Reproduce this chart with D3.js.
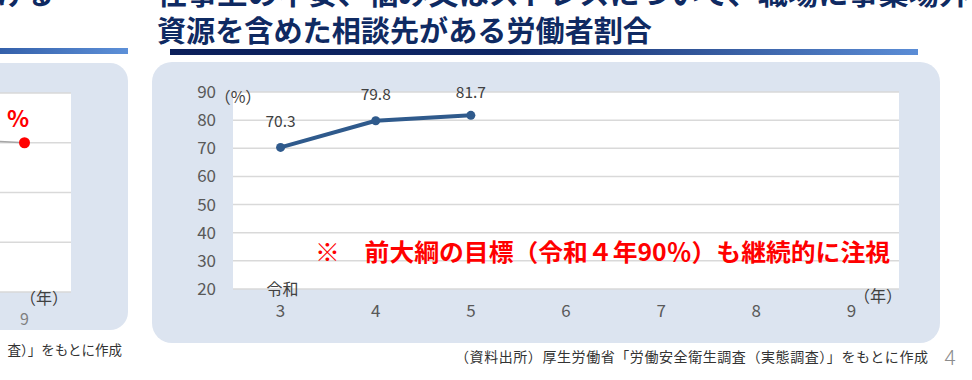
<!DOCTYPE html>
<html>
<head>
<meta charset="utf-8">
<script src="https://cdn.jsdelivr.net/npm/d3@7"></script>
<style>
  html, body { margin: 0; padding: 0; background: #fff; }
  svg { display: block; }
</style>
</head>
<body>
<div id="chart"></div>
<script>
// main chart data
const years = ["3", "4", "5", "6", "7", "8", "9"];
const rates = [70.3, 79.8, 81.7];
const yTicks = [20, 30, 40, 50, 60, 70, 80, 90];

// partly visible chart on the left edge
const leftYears = ["8", "9"];
const leftValues = [82, 80];
const leftTicks = [20, 40, 60, 80, 100];

const titleLine1 = "仕事上の不安、悩み又はストレスについて、職場に事業場外";
const titleLine2 = "資源を含めた相談先がある労働者割合";
const note = "※　前大綱の目標（令和４年90％）も継続的に注視";
const source = "（資料出所）厚生労働省「労働安全衛生調査（実態調査）」をもとに作成";

const W = 972, H = 380;
const font = "'Noto Sans CJK JP', 'Noto Sans', sans-serif";

const svg = d3.select("#chart").append("svg")
  .attr("width", W)
  .attr("height", H)
  .attr("font-family", font);

const defs = svg.append("defs");
const g1 = defs.append("linearGradient").attr("id", "barMain");
g1.append("stop").attr("offset", "0%").attr("stop-color", "#0b1f5a");
g1.append("stop").attr("offset", "45%").attr("stop-color", "#0f2766");
g1.append("stop").attr("offset", "100%").attr("stop-color", "#5b8dd6");
const g2 = defs.append("linearGradient").attr("id", "barLeft");
g2.append("stop").attr("offset", "0%").attr("stop-color", "#3460aa");
g2.append("stop").attr("offset", "100%").attr("stop-color", "#5d90d8");

// ---------- titles ----------
svg.append("text")
  .attr("x", 157).attr("y", 5)
  .attr("font-size", 29).attr("font-weight", 700)
  .attr("fill", "#0f2a62")
  .attr("textLength", 812).attr("lengthAdjust", "spacingAndGlyphs")
  .text(titleLine1);
svg.append("text")
  .attr("x", 157).attr("y", 42)
  .attr("font-size", 29).attr("font-weight", 700)
  .attr("fill", "#0f2a62")
  .attr("textLength", 495).attr("lengthAdjust", "spacingAndGlyphs")
  .text(titleLine2);
svg.append("text")
  .attr("x", -4).attr("y", 5)
  .attr("font-size", 29).attr("font-weight", 700)
  .attr("fill", "#0f2a62")
  .text("ける");

svg.append("rect").attr("x", 170).attr("y", 49).attr("width", 748).attr("height", 6)
  .attr("fill", "url(#barMain)");
svg.append("rect").attr("x", 0).attr("y", 48).attr("width", 128).attr("height", 6)
  .attr("fill", "url(#barLeft)");

// ---------- panels ----------
svg.append("rect").attr("x", -40).attr("y", 63).attr("width", 168).attr("height", 267)
  .attr("rx", 18).attr("fill", "#dce4f0");
svg.append("rect").attr("x", 152).attr("y", 62).attr("width", 788).attr("height", 281)
  .attr("rx", 20).attr("fill", "#dce4f0");

// ---------- left partial chart ----------
const lx = d3.scaleBand().domain(leftYears).range([-118, 72]);
const ly = d3.scaleLinear().domain([20, 100]).range([292, 93]);
const left = svg.append("g");
left.append("rect").attr("x", 0).attr("y", 93).attr("width", 71).attr("height", 199)
  .attr("fill", "#fff");
left.selectAll("line.grid").data(leftTicks).join("line")
  .attr("class", "grid")
  .attr("x1", 0).attr("x2", 71)
  .attr("y1", d => ly(d)).attr("y2", d => ly(d))
  .attr("stroke", "#d9d9d9").attr("stroke-width", 1.5);
const lcx = d => lx(d) + lx.bandwidth() / 2;
left.append("path")
  .datum(leftValues)
  .attr("d", d3.line().x((d, i) => lcx(leftYears[i])).y(d => ly(d)))
  .attr("fill", "none").attr("stroke", "#a6a6a6").attr("stroke-width", 1.5);
left.append("circle")
  .attr("cx", lcx("9")).attr("cy", ly(leftValues[1])).attr("r", 5.5)
  .attr("fill", "#ff0000");
left.append("text")
  .attr("x", 18).attr("y", 127)
  .attr("text-anchor", "middle")
  .attr("font-size", 23).attr("font-weight", 700).attr("fill", "#ff0000")
  .text("%");
left.append("text")
  .attr("x", 44).attr("y", 304).attr("text-anchor", "middle")
  .attr("font-size", 16).attr("fill", "#404040").text("（年）");
left.append("text")
  .attr("x", lcx("9")).attr("y", 325).attr("text-anchor", "middle")
  .attr("font-size", 16).attr("fill", "#7f7f7f").text("9");
left.append("text")
  .attr("x", 122).attr("y", 355).attr("text-anchor", "end")
  .attr("font-size", 13.5).attr("fill", "#333").text("査）」をもとに作成");

// ---------- main chart ----------
const plot = { left: 233, right: 899, top: 92, bottom: 289 };
const x = d3.scaleBand().domain(years).range([plot.left, plot.right]);
const y = d3.scaleLinear().domain([20, 90]).range([plot.bottom, plot.top]);
const cx = d => x(d) + x.bandwidth() / 2;

const chart = svg.append("g");
chart.append("rect")
  .attr("x", plot.left).attr("y", plot.top)
  .attr("width", plot.right - plot.left).attr("height", plot.bottom - plot.top)
  .attr("fill", "#fff");

chart.selectAll("line.grid").data(yTicks).join("line")
  .attr("class", "grid")
  .attr("x1", plot.left).attr("x2", plot.right)
  .attr("y1", d => y(d)).attr("y2", d => y(d))
  .attr("stroke", "#d9d9d9").attr("stroke-width", 1.5);

const yAxis = chart.append("g")
  .attr("transform", `translate(${plot.left - 17},0)`)
  .call(d3.axisLeft(y).tickValues(yTicks).tickSize(0).tickPadding(0));
yAxis.select(".domain").remove();
yAxis.selectAll("text")
  .attr("font-family", font).attr("font-size", 17).attr("fill", "#595959");

const xAxis = chart.append("g")
  .attr("transform", `translate(0,${plot.bottom})`)
  .call(d3.axisBottom(x).tickSize(0).tickPadding(16));
xAxis.select(".domain").remove();
xAxis.selectAll("text")
  .attr("font-family", font).attr("font-size", 17).attr("fill", "#595959");

chart.append("text")
  .attr("x", cx("3") + 2).attr("y", 295).attr("text-anchor", "middle")
  .attr("font-size", 16).attr("fill", "#404040").text("令和");
chart.append("text")
  .attr("x", 878).attr("y", 302).attr("text-anchor", "middle")
  .attr("font-size", 16).attr("fill", "#404040").text("（年）");
chart.append("text")
  .attr("x", 238).attr("y", 103).attr("text-anchor", "middle")
  .attr("font-size", 16).attr("fill", "#404040").text("（%）");

chart.append("path")
  .datum(rates)
  .attr("d", d3.line().x((d, i) => cx(years[i])).y(d => y(d)))
  .attr("fill", "none").attr("stroke", "#2f5a8c").attr("stroke-width", 4)
  .attr("stroke-linejoin", "round");

chart.selectAll("circle.pt").data(rates).join("circle")
  .attr("class", "pt")
  .attr("cx", (d, i) => cx(years[i])).attr("cy", d => y(d)).attr("r", 4.5)
  .attr("fill", "#2f5a8c");

const labelOffset = [-20, -21, -17];
chart.selectAll("text.lbl").data(rates).join("text")
  .attr("class", "lbl")
  .attr("x", (d, i) => cx(years[i]))
  .attr("y", (d, i) => y(d) + labelOffset[i])
  .attr("text-anchor", "middle")
  .attr("font-size", 15.5).attr("fill", "#404040")
  .text(d => d.toFixed(1));

chart.append("text")
  .attr("x", 315).attr("y", 261)
  .attr("font-size", 24).attr("font-weight", 700).attr("fill", "#ff0000")
  .attr("textLength", 575).attr("lengthAdjust", "spacingAndGlyphs")
  .text(note);

// ---------- footer ----------
svg.append("text")
  .attr("x", 928).attr("y", 362).attr("text-anchor", "end")
  .attr("font-size", 14).attr("fill", "#333")
  .attr("textLength", 473).attr("lengthAdjust", "spacing")
  .text(source);
svg.append("text")
  .attr("x", 950).attr("y", 365).attr("text-anchor", "middle")
  .attr("font-size", 21).attr("font-weight", 300).attr("fill", "#8c8c8c")
  .text("4");
</script>
</body>
</html>
